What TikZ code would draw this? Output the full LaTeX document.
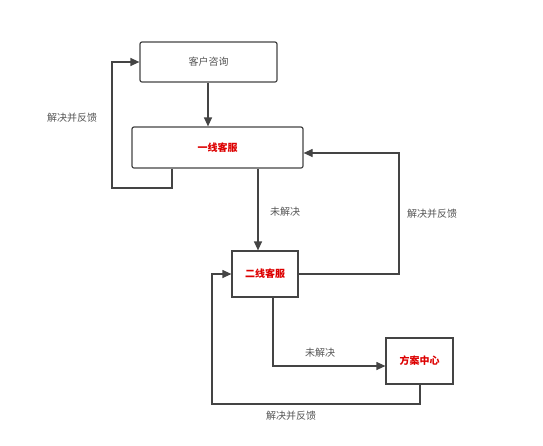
\documentclass[tikz,border=0pt]{standalone}
\usepackage{fontspec}
\setmainfont{Noto Sans CJK SC}
\usetikzlibrary{arrows.meta}
\definecolor{ln}{HTML}{444444}
\definecolor{tx}{HTML}{555555}
\definecolor{rd}{HTML}{DD0000}
\begin{document}
\begin{tikzpicture}[x=1pt,y=-1pt,
  box/.style={draw=ln,line width=1.2pt,fill=white,inner sep=0pt},
  rbox/.style={box,rounded corners=2pt},
  hot/.style={text=rd,font=\fontsize{10}{12}\selectfont\bfseries},
  lbl/.style={text=tx,font=\fontsize{10}{12}\selectfont},
  conn/.style={draw=ln,line width=1.2pt,-{Triangle[length=9pt,width=8pt]}}]
\useasboundingbox (0,0) rectangle (543,445);
\node[rbox,minimum width=137pt,minimum height=40pt,lbl] (a) at (208.5,62) {客户咨询};
\node[rbox,minimum width=171pt,minimum height=41pt,hot] (b) at (217.5,147.5) {一线客服};
\node[box,minimum width=66pt,minimum height=46pt,hot] (c) at (265,274) {二线客服};
\node[box,minimum width=67pt,minimum height=46pt,hot] (d) at (419.5,361) {方案中心};
\coordinate (p1) at (172,188);
\coordinate (p2) at (112,188);
\coordinate (p3) at (112,62);
\draw[conn] (a.south -| 208,0) -- (b.north -| 208,0);
\draw[conn] (b.south -| 172,0) -- (p1) -- (p2) -- (p3) -- (a.west);
\draw[conn] (b.south -| 258,0) -- (c.north -| 258,0);
\coordinate (q1) at (399,274);
\coordinate (q2) at (399,153);
\draw[conn] (c.east) -- (q1) -- (q2) -- (b.east |- q2);
\coordinate (r1) at (273,366);
\draw[conn] (c.south -| r1) -- (r1) -- (d.west |- r1);
\coordinate (s1) at (420,404);
\coordinate (s2) at (212,404);
\coordinate (s3) at (212,274);
\draw[conn] (d.south -| s1) -- (s1) -- (s2) -- (s3) -- (c.west);
\node[lbl] (l1) at (72,118) {解决并反馈};
\node[lbl] (l2) at (285,212) {未解决};
\node[lbl] (l3) at (432,214) {解决并反馈};
\node[lbl] (l4) at (320,353) {未解决};
\node[lbl] (l5) at (291,416) {解决并反馈};
\end{tikzpicture}
\end{document}
